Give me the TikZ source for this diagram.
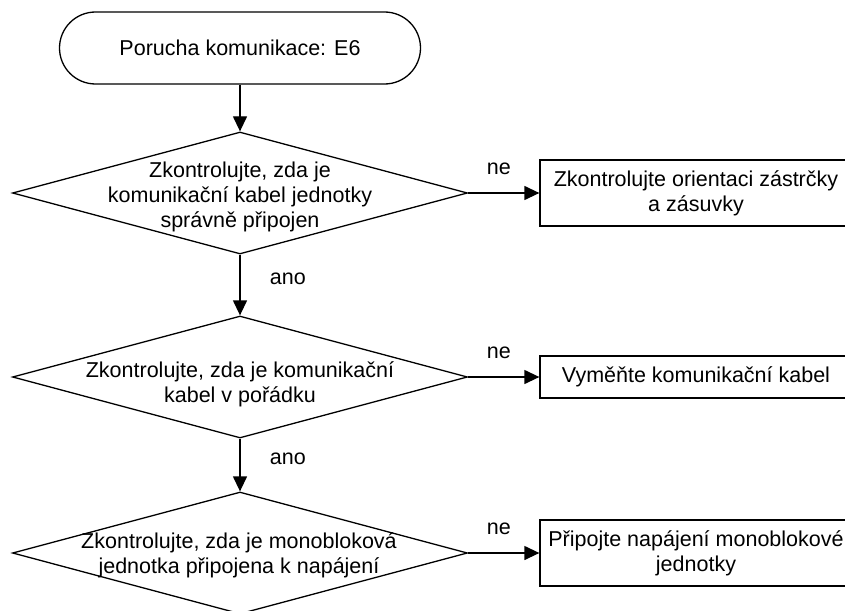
\documentclass[tikz,border=0pt]{standalone}
\usepackage{fontspec}
\setmainfont{Liberation Sans}
\usetikzlibrary{shapes.geometric,arrows.meta}

\begin{document}
\begin{tikzpicture}[x=1pt, y=-1pt, line width=1.3pt,
    >={Triangle[length=15pt, width=14pt]},
    every node/.style={font=\fontsize{21.5}{25}\selectfont},
    terminal/.style={draw, rectangle, rounded corners=36pt, minimum width=361pt, minimum height=72pt},
    decision/.style={draw, diamond, inner sep=0pt, minimum width=455pt, minimum height=122pt},
    action/.style={draw, rectangle, align=center, minimum width=312pt}]
    \useasboundingbox (0,0) rectangle (845,610);
    \clip (0,0) rectangle (845,610);
    \node (start) at (240,48) [terminal] {Porucha komunikace: E6};
    \node (q1) at (240,193) [decision] {};
    \node (q2) at (240,377) [decision] {};
    \node (q3) at (240,553) [decision] {};
    \node (q1t) at (240,197) [align=center] {Zkontrolujte, zda je\\komunikační kabel jednotky\\správně připojen};
    \node (q2t) at (240,384) [align=center] {Zkontrolujte, zda je komunikační\\kabel v pořádku};
    \node (q3t) at (239,555) [align=center] {Zkontrolujte, zda je monobloková\\jednotka připojena k napájení};
    \node (a1) at (696,193) [action, minimum height=66pt] {Zkontrolujte orientaci zástrčky\\a zásuvky};
    \node (a2) at (696,377) [action, minimum height=42pt] {Vyměňte komunikační kabel};
    \node (a3) at (696,553) [action, minimum height=66pt] {Připojte napájení monoblokové\\jednotky};
    \draw[->] (start) -- (q1);
    \draw[->] (q1) -- (q2) node[pos=0.39, right=26pt] {ano};
    \draw[->] (q2) -- (q3) node[pos=0.39, right=26pt] {ano};
    \draw[->] (q1) -- (a1) node[pos=0.43, above=14pt] {ne};
    \draw[->] (q2) -- (a2) node[pos=0.43, above=14pt] {ne};
    \draw[->] (q3) -- (a3) node[pos=0.43, above=14pt] {ne};
\end{tikzpicture}
\end{document}
